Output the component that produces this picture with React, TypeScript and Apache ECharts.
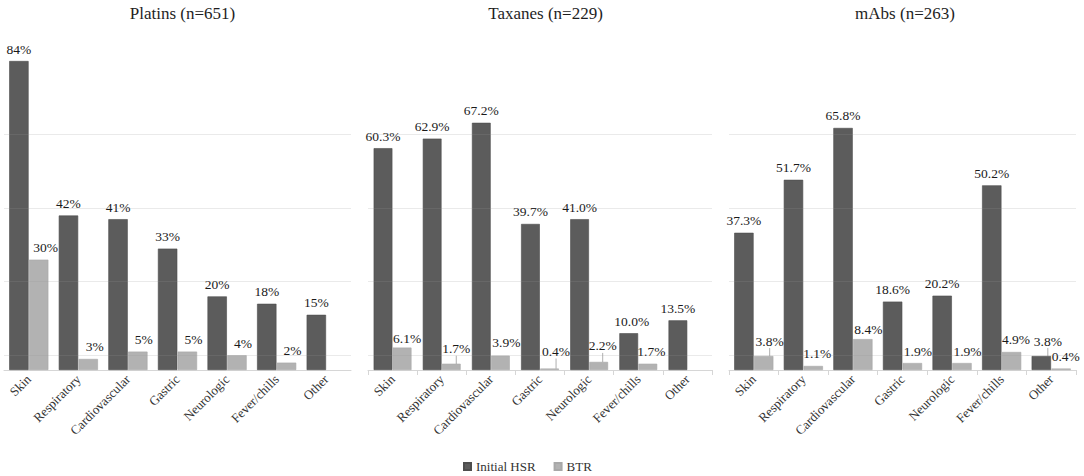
import React, { useEffect, useRef } from "react";
import * as echarts from "echarts";

const categories = ["Skin", "Respiratory", "Cardiovascular", "Gastric", "Neurologic", "Fever/chills", "Other"];
const seriesNames = ["Initial HSR", "BTR"];
const panelTitles = ["Platins (n=651)", "Taxanes (n=229)", "mAbs (n=263)"];

const platinsHSR = [84, 42, 41, 33, 20, 18, 15];
const platinsBTR = [30, 3, 5, 5, 4, 2, null];
const taxanesHSR = [60.3, 62.9, 67.2, 39.7, 41.0, 10.0, 13.5];
const taxanesBTR = [6.1, 1.7, 3.9, 0.4, 2.2, 1.7, null];
const mabsHSR = [37.3, 51.7, 65.8, 18.6, 20.2, 50.2, 3.8];
const mabsBTR = [3.8, 1.1, 8.4, 1.9, 1.9, 4.9, 0.4];

const labelDecimals = [0, 1, 1];

// value axis range and the faint gridlines of the original
const yMin = 0;
const yMax = 84;
const gridLineValues = [4, 24, 44, 64];

// label nudges [dx, dy] and leader-line flags
const hsrOffsets = [
  [[0, 0], [0, 0], [0, 0], [0, 0], [0, 0], [0, 0], [0, 0]],
  [[0, 0], [0, 0], [0, 0], [0, 0], [0, 0], [3, 0], [0, 0]],
  [[0, 0], [0, 0], [0, 0], [0, 0], [0, 0], [0, 0], [6.5, -3]],
];
const hsrLeaders = [
  [0, 0, 0, 0, 0, 0, 0],
  [0, 0, 0, 0, 0, 0, 0],
  [0, 0, 0, 0, 0, 0, 1],
];
const btrOffsets = [
  [[7, 0], [6.5, 0], [6, 0], [6, 0], [6, 0], [6, 0], [0, 0]],
  [[5, 2.5], [5, -3], [6, -1.5], [6.5, -5], [4, -4], [3.5, 0], [0, 0]],
  [[6, -3], [4, 0], [5.5, 2.5], [5.5, 0], [5.5, 0], [4.5, 0], [4.7, 0]],
];
const btrLeaders = [
  [0, 0, 0, 0, 0, 0, 0],
  [0, 1, 0, 1, 1, 0, 0],
  [1, 0, 0, 0, 0, 0, 0],
];

const panelHSR = [platinsHSR, taxanesHSR, mabsHSR];
const panelBTR = [platinsBTR, taxanesBTR, mabsBTR];

const layout = [
  { left: 4, width: 347, gap: "21%", ticks: false, titleX: 177.5 },
  { left: 368, width: 344, gap: "23%", ticks: true, titleX: 540.5 },
  { left: 729, width: 347, gap: "21%", ticks: true, titleX: 900 },
];

const FONT = "Liberation Serif, serif";
const DARK = "#5c5c5c";
const LIGHT = "#b2b2b2";

function buildItems(values: (number | null)[], leaders: number[]) {
  return values.map((v, i) =>
    v == null
      ? { value: null }
      : {
          value: v,
          labelLine: { show: leaders[i] === 1 },
        }
  );
}

export default function App() {
  const ref = useRef<HTMLDivElement>(null);

  useEffect(() => {
    document.body.style.margin = "0";
    if (!ref.current) return;
    const chart = echarts.init(ref.current, undefined, { renderer: "svg" });

    const grids: any[] = [];
    const xAxes: any[] = [];
    const yAxes: any[] = [];
    const titles: any[] = [];
    const series: any[] = [];

    layout.forEach((L, p) => {
      grids.push({
        left: L.left,
        width: L.width,
        top: 61,
        bottom: 106,
        containLabel: false,
        outerBoundsMode: "none",
      });
      titles.push({
        text: panelTitles[p],
        left: L.titleX,
        top: 0,
        textAlign: "center",
        textStyle: { fontFamily: FONT, fontSize: 17, fontWeight: "normal", color: "#1e1e1e" },
      });
      xAxes.push({
        type: "category",
        gridIndex: p,
        data: categories,
        axisLine: { show: true, lineStyle: { color: "#d6d6d6", width: 1 } },
        axisTick: { show: L.ticks, alignWithLabel: false, length: 5, lineStyle: { color: "#d6d6d6" } },
        axisLabel: {
          interval: 0,
          rotate: 45,
          margin: 7,
          fontFamily: FONT,
          fontSize: 13,
          color: "#333333",
        },
        splitLine: { show: false },
      });
      yAxes.push({
        type: "value",
        gridIndex: p,
        min: yMin,
        max: yMax,
        axisLine: { show: false },
        axisTick: { show: false },
        axisLabel: { show: false },
        splitLine: { show: false },
      });

      const dec = labelDecimals[p];
      const fmt = (prm: any) => (prm.value == null ? "" : Number(prm.value).toFixed(dec) + "%");
      const hOff = hsrOffsets[p];
      const bOff = btrOffsets[p];

      const labelBase = {
        show: true,
        position: "top",
        distance: 5,
        formatter: fmt,
        fontFamily: FONT,
        fontSize: 13.5,
        color: "#1a1a1a",
      };

      series.push({
        name: seriesNames[0],
        type: "bar",
        xAxisIndex: p,
        yAxisIndex: p,
        data: buildItems(panelHSR[p], hsrLeaders[p]),
        barGap: "2%",
        barCategoryGap: L.gap,
        itemStyle: { color: DARK, borderColor: "#4e4e4e", borderWidth: 0.6 },
        label: labelBase,
        labelLine: { show: false, lineStyle: { color: "#9a9a9a", width: 0.8 } },
        labelLayout: (prm: any) => ({ dx: hOff[prm.dataIndex][0], dy: hOff[prm.dataIndex][1] }),
      });
      series.push({
        name: seriesNames[1],
        type: "bar",
        xAxisIndex: p,
        yAxisIndex: p,
        data: buildItems(panelBTR[p], btrLeaders[p]),
        barGap: "2%",
        barCategoryGap: L.gap,
        itemStyle: { color: LIGHT, borderColor: "#a8a8a8", borderWidth: 0.6 },
        label: labelBase,
        labelLine: { show: false, lineStyle: { color: "#9a9a9a", width: 0.8 } },
        labelLayout: (prm: any) => ({ dx: bOff[prm.dataIndex][0], dy: bOff[prm.dataIndex][1] }),
        markLine: {
          silent: true,
          symbol: "none",
          label: { show: false },
          lineStyle: { color: "rgba(150,150,150,0.2)", width: 1, type: "solid" },
          emphasis: { disabled: true },
          data: gridLineValues.map((v) => ({ yAxis: v })),
        },
      });
    });

    chart.setOption({
      animation: false,
      backgroundColor: "#ffffff",
      title: titles,
      legend: {
        data: seriesNames,
        left: 458,
        top: 455,
        itemWidth: 7,
        itemHeight: 7,
        itemGap: 18,
        icon: "rect",
        textStyle: { fontFamily: FONT, fontSize: 13, color: "#333333" },
      },
      grid: grids,
      xAxis: xAxes,
      yAxis: yAxes,
      series,
    });

    return () => chart.dispose();
  }, []);

  return <div ref={ref} style={{ width: 1084, height: 476 }} />;
}
